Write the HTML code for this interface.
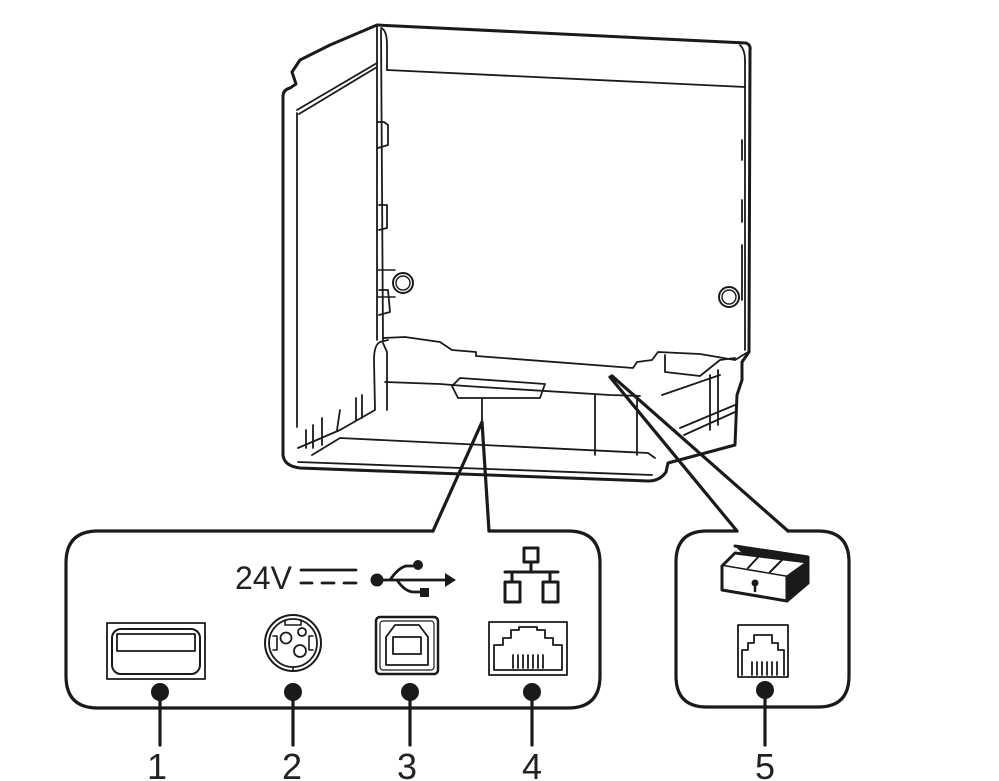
<!DOCTYPE html>
<html><head><meta charset="utf-8"><style>
html,body{margin:0;padding:0;background:#fff;}
svg{display:block;}
text{font-family:"Liberation Sans","DejaVu Sans",sans-serif;fill:#222;}
</style></head><body>
<svg width="999" height="781" viewBox="0 0 999 781" xmlns="http://www.w3.org/2000/svg">
<g fill="none" stroke="#1a1a1a" stroke-linejoin="round" stroke-linecap="round">
<!-- printer body -->
<g stroke-width="3">
<path d="M377,25 L746,43 Q751,45 750,50 L749,352 L742,362 L742,380 L737,395 L735,445 L668,463 L666,472 Q660,481 648,481 L300,468 Q284,466 283,455 L283,96 Q283,90 290,88 L296,84 L292,72 L300,60 L316,52 L330,45 L377,25 Z"/>
</g>
<g stroke-width="1.8">
<path d="M377,25 L377,340"/>
<path d="M381,30 L383,340"/>
<path d="M387,70 L745,87"/>
<path d="M381,28 Q387,30 387,45 L387,70"/>
<path d="M745,87 L745,350"/>
<path d="M740,45 Q745,50 745,60 L745,87"/>
<path d="M297,113 L297,427"/>
<path d="M297,110 L377,63"/>
<path d="M299,114 L377,67"/>
<path d="M383,338 L405,337 L440,342 L452,350 L476,352 L476,356 L633,368 L637,362 L652,360 L658,352 L700,354 L735,360 L748,352"/>
<path d="M388,340 L380,342 Q374,345 374,360 L375,410 L340,430 L298,448"/>
<path d="M383,343 L387,352 L387,410"/>
<path d="M385,382 L440,384 L465,386 L610,395 L640,396"/>
<path d="M452,386 L460,378 L545,384 L540,398 L485,398 L458,398 Z"/>
<path d="M482,398 L482,422"/>
<path d="M312,455 L340,438 L648,453 L655,458"/>
<path d="M298,462 L652,475"/>
<path d="M595,395 L595,455"/>
<path d="M637,396 L637,455"/>
<path d="M665,355 L665,372 L700,376 L720,360 L735,358"/>
<path d="M662,395 L720,375"/>
<path d="M680,428 L735,405"/>
<path d="M684,435 L735,412"/>
<path d="M710,375 L710,430"/>
<path d="M718,370 L718,425"/>
<path d="M306,448 L306,430 M313,448 L313,425 M322,445 L322,418 M356,420 L356,398 M362,418 L362,395 M337,430 L340,410"/>
<path d="M378,122 L384,122 L388,125 L388,145 L378,148"/>
<path d="M379,205 L387,205 L387,228 L379,230"/>
<path d="M379,290 L388,290 L390,312 L379,315"/>
<path d="M742,140 L742,160 M742,200 L742,222 M742,245 L742,300"/>
</g>
<circle cx="403" cy="283" r="10" stroke-width="2"/>
<circle cx="403" cy="283" r="7" stroke-width="1.4"/>
<path d="M378,270 L395,270 M378,297 L395,297" stroke-width="1.6"/>
<circle cx="729" cy="297" r="10" stroke-width="2"/>
<circle cx="729" cy="297" r="7" stroke-width="1.4"/>

<!-- callouts -->
<g stroke-width="3.2">
<path d="M433,531 L482,422 L489,531"/>
<path d="M610,377 L737,531 M612,376 L788,531"/>
<path d="M433,531 L98,531 Q66,531 66,563 L66,676 Q66,708 98,708 L568,708 Q600,708 600,676 L600,563 Q600,531 568,531 L489,531"/>
<path d="M737,531 L707,531 Q676,531 676,562 L676,676 Q676,707 707,707 L818,707 Q849,707 849,676 L849,562 Q849,531 818,531 L788,531"/>
<path d="M160,692 L160,745 M293,692 L293,745 M410,692 L410,745 M532,692 L532,745 M765,687 L765,745"/>
</g>
<g fill="#1a1a1a" stroke="none">
<circle cx="160" cy="692" r="9"/><circle cx="293" cy="692" r="9"/><circle cx="410" cy="692" r="9"/><circle cx="532" cy="692" r="9"/><circle cx="765" cy="690" r="9"/>
</g>

<!-- USB A -->
<rect x="107" y="623" width="98" height="56" stroke-width="1.8"/>
<rect x="112" y="629" width="88" height="45" rx="9" stroke-width="2"/>
<rect x="117" y="634" width="78" height="17" stroke-width="1.8"/>
<!-- power -->
<circle cx="293" cy="643" r="28" stroke-width="2"/>
<circle cx="293" cy="643" r="24" stroke-width="1.8"/>
<circle cx="286" cy="638" r="5.5" stroke-width="1.8"/>
<circle cx="302" cy="632" r="4" stroke-width="1.8"/>
<circle cx="300" cy="651" r="6" stroke-width="1.8"/>
<path d="M285,620 L285,625 L301,625 L301,620 M273,636 L277,636 L277,650 L273,650 M313,636 L309,636 L309,650 L313,650 M293,667 L293,671" stroke-width="1.6"/>
<!-- USB B -->
<rect x="376" y="617" width="62" height="57" rx="4" stroke-width="2.5"/>
<rect x="380" y="621" width="54" height="49" rx="3" stroke-width="1.2"/>
<path d="M386,665 L386,637 L395,625 L419,625 L428,637 L428,665 Z" stroke-width="1.8"/>
<rect x="393" y="637" width="28" height="17" stroke-width="1.8"/>
<!-- RJ45 -->
<rect x="489" y="622" width="78" height="53" stroke-width="1.8"/>
<path d="M494,670 L494,645 L503,645 L503,638 L511,638 L511,630 L519,630 L519,627 L537,627 L537,630 L545,630 L545,638 L553,638 L553,645 L562,645 L562,670 Z" stroke-width="1.8"/>
<path d="M513,655 L513,668 M518,655 L518,668 M523,655 L523,668 M528,655 L528,668 M533,655 L533,668 M538,655 L538,668 M543,655 L543,668" stroke-width="1.8"/>
<!-- RJ11 -->
<rect x="738" y="625" width="50" height="52" stroke-width="1.8"/>
<path d="M742,675 L742,650 L748,650 L748,643 L754,643 L754,635 L772,635 L772,643 L778,643 L778,650 L784,650 L784,675" stroke-width="1.8"/>
<path d="M752,662 L752,675 M757,662 L757,675 M762,662 L762,675 M767,662 L767,675 M772,662 L772,675 M777,662 L777,675" stroke-width="1.8"/>
<!-- drawer -->
<path d="M735,546 L808,557 L808,583 L787,600" stroke-width="3" fill="#1a1a1a"/>
<path d="M722,566 L735,553 L808,562 L787,577 Z" stroke-width="3" fill="#fff"/>
<path d="M722,566 L722,590 L787,601 L787,577" stroke-width="3" fill="#fff"/>
<path d="M787,601 L808,583 L808,562" stroke-width="3"/>
<path d="M748,568 L760,555 M770,572 L783,559" stroke-width="2"/>
<circle cx="755" cy="583" r="3.5" fill="#1a1a1a" stroke="none"/>
<path d="M755,583 L755,591" stroke-width="2.5"/>
<!-- DC symbol -->
<path d="M301,570 L356,570" stroke-width="2.8"/>
<path d="M301,583 L312,583 M322,583 L334,583 M344,583 L356,583" stroke-width="2.8"/>
<!-- USB symbol -->
<circle cx="377" cy="580" r="6.5" fill="#1a1a1a" stroke="none"/>
<path d="M377,580 L448,580 M390,580 Q398,568 406,566 L415,566 M397,580 Q405,592 414,592 L423,592" stroke-width="2.8"/>
<circle cx="418" cy="565" r="5" fill="#1a1a1a" stroke="none"/>
<rect x="420" y="588" width="9" height="9" fill="#1a1a1a" stroke="none"/>
<path d="M445,573 L456,580 L445,587 Z" fill="#1a1a1a" stroke="none"/>
<!-- network -->
<rect x="524" y="548" width="14" height="14" stroke-width="3"/>
<path d="M531,562 L531,572 M505,572 L558,572 M512,572 L512,582 M550,572 L550,582" stroke-width="3"/>
<rect x="505" y="582" width="15" height="20" stroke-width="3"/>
<rect x="543" y="582" width="15" height="20" stroke-width="3"/>
</g>
<text x="235" y="589" font-size="32">24V</text>
<g font-size="36" text-anchor="middle">
<text x="157" y="779">1</text><text x="292" y="779">2</text><text x="407" y="779">3</text><text x="532" y="779">4</text><text x="765" y="779">5</text>
</g>
</svg>
</body></html>
